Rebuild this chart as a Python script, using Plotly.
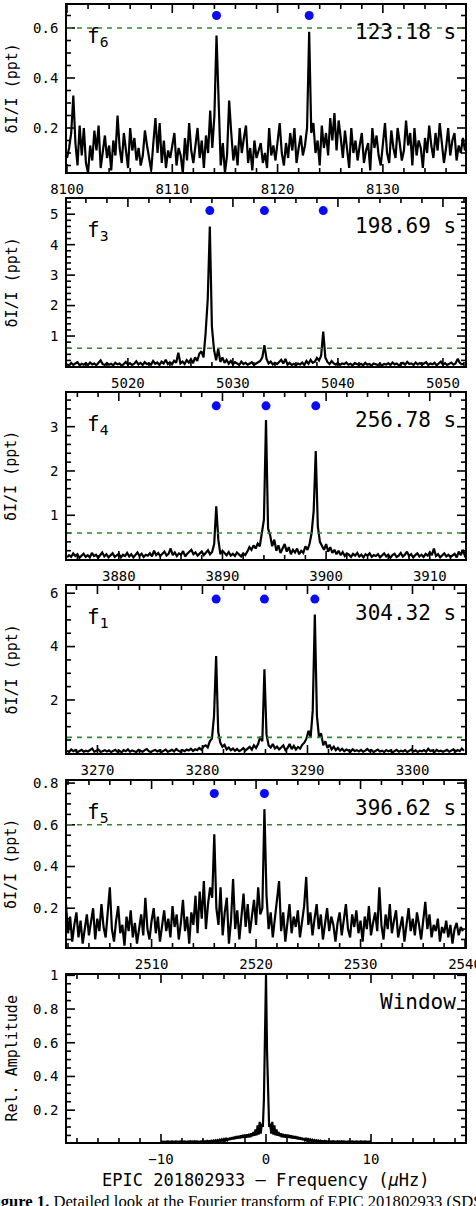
import numpy as np
import plotly.graph_objects as go

# ---------------- data ----------------
# Panel f6 (123.18 s)
f6_start, f6_step = 8100.0, 0.2
f6_amp = [
    0.08, 0.12, 0.18, 0.33, 0.14, 0.05, 0.21, 0.09, 0.20, 0.06,
    0.02, 0.13, 0.07, 0.19, 0.11, 0.21, 0.04, 0.10, 0.17, 0.08,
    0.13, 0.03, 0.15, 0.09, 0.25, 0.12, 0.06, 0.18, 0.10, 0.04,
    0.20, 0.11, 0.16, 0.07, 0.12, 0.05, 0.09, 0.19, 0.13, 0.08,
    0.03, 0.14, 0.24, 0.10, 0.22, 0.06, 0.15, 0.04, 0.11, 0.08,
    0.14, 0.18, 0.05, 0.12, 0.09, 0.02, 0.16, 0.07, 0.22, 0.11,
    0.06, 0.13, 0.20, 0.08, 0.15, 0.04, 0.17, 0.10, 0.27, 0.12,
    0.25, 0.57, 0.30, 0.05, 0.14, 0.02, 0.09, 0.31, 0.18, 0.07,
    0.13, 0.05, 0.20, 0.10, 0.16, 0.21, 0.06, 0.12, 0.03, 0.15,
    0.08, 0.11, 0.14, 0.06, 0.10, 0.04, 0.20, 0.09, 0.13, 0.07,
    0.16, 0.22, 0.10, 0.05, 0.14, 0.08, 0.18, 0.11, 0.20, 0.06,
    0.12, 0.17, 0.09, 0.13, 0.20, 0.585, 0.18, 0.22, 0.10, 0.15,
    0.05, 0.21, 0.12, 0.18, 0.09, 0.24, 0.15, 0.26, 0.11, 0.23,
    0.16, 0.08, 0.19, 0.12, 0.04, 0.20, 0.10, 0.15, 0.07, 0.13,
    0.18, 0.06, 0.11, 0.14, 0.03, 0.20, 0.12, 0.17, 0.09, 0.05,
    0.15, 0.22, 0.10, 0.06, 0.19, 0.12, 0.08, 0.20, 0.14, 0.07,
    0.11, 0.23, 0.13, 0.18, 0.05, 0.20, 0.09, 0.15, 0.12, 0.04,
    0.16, 0.10, 0.21, 0.13, 0.08, 0.18, 0.11, 0.22, 0.14, 0.06,
    0.12, 0.20, 0.09, 0.15, 0.18, 0.07, 0.13, 0.10, 0.16, 0.11,
]
f6_marks = [8114.2, 8123.0]
f6_mark_level = 0.65
f6_threshold = 0.6

# Panel f3 (198.69 s)
f3_start, f3_step = 5014.2, 0.2
f3_amp = [
    0.08, 0.03, 0.12, 0.05, 0.10, 0.14, 0.04, 0.09, 0.06, 0.11,
    0.05, 0.13, 0.07, 0.10, 0.04, 0.12, 0.20, 0.08, 0.05, 0.11,
    0.06, 0.09, 0.04, 0.12, 0.07, 0.10, 0.03, 0.08, 0.15, 0.06,
    0.11, 0.05, 0.09, 0.17, 0.07, 0.12, 0.05, 0.14, 0.08, 0.10,
    0.06, 0.18, 0.09, 0.13, 0.05, 0.16, 0.10, 0.22, 0.08, 0.14,
    0.07, 0.19, 0.12, 0.45, 0.10, 0.16, 0.08, 0.21, 0.13, 0.24,
    0.11, 0.30, 0.18, 0.42, 0.50, 0.30, 1.10, 2.20, 4.60, 1.30,
    0.55, 0.20, 0.58, 0.15, 0.30, 0.12, 0.22, 0.09, 0.18, 0.07,
    0.14, 0.10, 0.05, 0.16, 0.08, 0.12, 0.06, 0.10, 0.14, 0.05,
    0.09, 0.13, 0.18, 0.30, 0.70, 0.25, 0.10, 0.16, 0.07, 0.12,
    0.08, 0.15, 0.22, 0.10, 0.25, 0.06, 0.12, 0.05, 0.09, 0.04,
    0.10, 0.07, 0.13, 0.05, 0.18, 0.09, 0.22, 0.12, 0.16, 0.28,
    0.20, 0.35, 1.15, 0.30, 0.15, 0.08, 0.18, 0.10, 0.06, 0.12,
    0.05, 0.10, 0.08, 0.13, 0.06, 0.09, 0.04, 0.11, 0.07, 0.05,
    0.09, 0.04, 0.12, 0.06, 0.08, 0.03, 0.10, 0.07, 0.05, 0.09,
    0.04, 0.08, 0.06, 0.11, 0.05, 0.13, 0.07, 0.10, 0.04, 0.08,
    0.12, 0.06, 0.15, 0.08, 0.10, 0.05, 0.13, 0.07, 0.11, 0.06,
    0.09, 0.14, 0.05, 0.10, 0.07, 0.12, 0.04, 0.09, 0.16, 0.06,
    0.11, 0.05, 0.08, 0.13, 0.06, 0.10, 0.25, 0.12, 0.07, 0.09,
]
f3_marks = [5027.8, 5033.0, 5038.6]
f3_mark_level = 5.12
f3_threshold = 0.6

# Panel f4 (256.78 s)
f4_start, f4_step = 3875.0, 0.2
f4_amp = [
    0.05, 0.10, 0.06, 0.14, 0.08, 0.12, 0.04, 0.09, 0.13, 0.06,
    0.10, 0.05, 0.15, 0.08, 0.11, 0.04, 0.09, 0.16, 0.07, 0.12,
    0.05, 0.10, 0.14, 0.06, 0.09, 0.13, 0.05, 0.11, 0.08, 0.15,
    0.07, 0.12, 0.05, 0.10, 0.16, 0.08, 0.13, 0.06, 0.11, 0.09,
    0.14, 0.07, 0.20, 0.10, 0.15, 0.08, 0.12, 0.18, 0.09, 0.13,
    0.25, 0.10, 0.16, 0.08, 0.14, 0.11, 0.19, 0.07, 0.13, 0.17,
    0.22, 0.12, 0.16, 0.09, 0.14, 0.18, 0.10, 0.15, 0.21, 0.12,
    0.17, 0.35, 1.20, 0.45, 0.12, 0.20, 0.15, 0.10, 0.17, 0.09,
    0.13, 0.08, 0.16, 0.11, 0.07, 0.14, 0.10, 0.18, 0.28, 0.22,
    0.32, 0.25, 0.36, 0.30, 0.60, 0.90, 3.15, 0.70, 0.55, 0.30,
    0.45, 0.20, 0.32, 0.15, 0.25, 0.35, 0.18, 0.28, 0.12, 0.22,
    0.16, 0.25, 0.12, 0.20, 0.15, 0.30, 0.22, 0.35, 0.60, 1.10,
    2.45, 0.75, 0.40, 0.30, 0.22, 0.35, 0.18, 0.28, 0.15, 0.22,
    0.12, 0.20, 0.10, 0.17, 0.08, 0.14, 0.11, 0.06, 0.13, 0.09,
    0.15, 0.07, 0.11, 0.05, 0.12, 0.09, 0.14, 0.06, 0.10, 0.08,
    0.12, 0.05, 0.09, 0.14, 0.07, 0.11, 0.04, 0.10, 0.13, 0.06,
    0.09, 0.15, 0.07, 0.11, 0.18, 0.08, 0.12, 0.05, 0.10, 0.14,
    0.07, 0.11, 0.06, 0.13, 0.09, 0.16, 0.10, 0.25, 0.08, 0.12,
    0.05, 0.10, 0.14, 0.07, 0.11, 0.06, 0.09, 0.13, 0.05, 0.18,
    0.10, 0.22, 0.08, 0.12, 0.06, 0.10, 0.09, 0.07, 0.11, 0.05,
]
f4_marks = [3889.4, 3894.2, 3899.0]
f4_mark_level = 3.47
f4_threshold = 0.6

# Panel f1 (304.32 s)
f1_start, f1_step = 3267.1, 0.2
f1_amp = [
    0.10, 0.05, 0.14, 0.08, 0.12, 0.04, 0.09, 0.13, 0.06, 0.10,
    0.07, 0.12, 0.18, 0.06, 0.10, 0.14, 0.05, 0.09, 0.12, 0.07,
    0.11, 0.05, 0.08, 0.13, 0.06, 0.10, 0.04, 0.12, 0.08, 0.15,
    0.06, 0.11, 0.08, 0.05, 0.13, 0.09, 0.06, 0.12, 0.16, 0.08,
    0.05, 0.10, 0.13, 0.07, 0.11, 0.05, 0.09, 0.14, 0.06, 0.10,
    0.13, 0.07, 0.16, 0.10, 0.06, 0.12, 0.08, 0.14, 0.11, 0.17,
    0.09, 0.15, 0.12, 0.20, 0.14, 0.25, 0.30, 0.22, 0.45, 0.55,
    1.40, 3.65, 0.80, 0.40, 0.25, 0.32, 0.15, 0.22, 0.12, 0.18,
    0.10, 0.16, 0.08, 0.13, 0.20, 0.11, 0.17, 0.24, 0.14, 0.30,
    0.20, 0.35, 0.62, 0.45, 3.15, 0.70, 0.30, 0.22, 0.35, 0.18,
    0.25, 0.15, 0.22, 0.30, 0.12, 0.20, 0.35, 0.16, 0.28, 0.14,
    0.24, 0.18, 0.32, 0.40, 0.55, 0.85, 0.60, 1.60, 5.20, 1.40,
    0.60, 0.75, 0.30, 0.45, 0.20, 0.32, 0.15, 0.25, 0.12, 0.20,
    0.10, 0.17, 0.08, 0.14, 0.11, 0.06, 0.15, 0.09, 0.12, 0.07,
    0.13, 0.06, 0.10, 0.16, 0.08, 0.12, 0.05, 0.09, 0.14, 0.07,
    0.10, 0.05, 0.12, 0.08, 0.11, 0.04, 0.09, 0.13, 0.06, 0.10,
    0.07, 0.12, 0.05, 0.09, 0.14, 0.07, 0.11, 0.05, 0.10, 0.08,
    0.12, 0.06, 0.17, 0.09, 0.11, 0.05, 0.13, 0.08, 0.10, 0.06,
    0.09, 0.13, 0.06, 0.10, 0.15, 0.07, 0.12, 0.08, 0.18, 0.10,
]
f1_marks = [3281.3, 3285.9, 3290.7]
f1_mark_level = 5.78
f1_threshold = 0.6

# Panel f5 (396.62 s)
f5_start, f5_step = 2501.8, 0.2
f5_amp = [
    0.22, 0.08, 0.16, 0.04, 0.12, 0.18, 0.06, 0.14, 0.03, 0.10,
    0.17, 0.07, 0.13, 0.20, 0.05, 0.15, 0.09, 0.22, 0.11, 0.06,
    0.18, 0.30, 0.10, 0.04, 0.14, 0.21, 0.08, 0.12, 0.02, 0.16,
    0.09, 0.19, 0.06, 0.13, 0.03, 0.11, 0.17, 0.07, 0.25, 0.10,
    0.05, 0.14, 0.20, 0.08, 0.16, 0.04, 0.12, 0.19, 0.09, 0.15,
    0.06, 0.21, 0.11, 0.17, 0.05, 0.13, 0.24, 0.09, 0.16, 0.03,
    0.18, 0.12, 0.26, 0.08, 0.28, 0.15, 0.33, 0.10, 0.22, 0.30,
    0.25, 0.555, 0.20, 0.12, 0.30, 0.07, 0.18, 0.25, 0.03, 0.14,
    0.34, 0.10, 0.19, 0.05, 0.16, 0.27, 0.11, 0.22, 0.08, 0.15,
    0.24, 0.12, 0.30, 0.17, 0.20, 0.675, 0.26, 0.10, 0.18, 0.06,
    0.15, 0.21, 0.33, 0.09, 0.18, 0.04, 0.13, 0.22, 0.08, 0.16,
    0.11, 0.19, 0.06, 0.14, 0.21, 0.35, 0.12, 0.18, 0.07, 0.15,
    0.22, 0.10, 0.17, 0.05, 0.14, 0.20, 0.09, 0.16, 0.12, 0.04,
    0.13, 0.18, 0.07, 0.15, 0.22, 0.10, 0.06, 0.17, 0.11, 0.19,
    0.08, 0.14, 0.04, 0.16, 0.10, 0.21, 0.07, 0.13, 0.18, 0.09,
    0.30, 0.12, 0.05, 0.17, 0.10, 0.22, 0.08, 0.14, 0.19, 0.06,
    0.11, 0.16, 0.04, 0.13, 0.20, 0.09, 0.15, 0.07, 0.18, 0.12,
    0.05, 0.14, 0.23, 0.10, 0.17, 0.06, 0.12, 0.09, 0.15, 0.04,
    0.11, 0.08, 0.14, 0.06, 0.12, 0.03, 0.10, 0.13, 0.07, 0.11,
    0.09,
]
f5_marks = [2516.0, 2520.8]
f5_mark_level = 0.75
f5_threshold = 0.6

# Spectral window
win_start, win_step = -10.0, 0.1
win_amp = [
    0.013, 0.012, 0.014, 0.012, 0.013, 0.012, 0.014, 0.012, 0.013, 0.012,
    0.014, 0.012, 0.013, 0.012, 0.014, 0.012, 0.013, 0.012, 0.014, 0.012,
    0.013, 0.012, 0.014, 0.012, 0.013, 0.012, 0.014, 0.012, 0.015, 0.012,
    0.014, 0.012, 0.015, 0.012, 0.014, 0.013, 0.016, 0.012, 0.015, 0.013,
    0.017, 0.013, 0.016, 0.013, 0.018, 0.014, 0.017, 0.013, 0.019, 0.014,
    0.020, 0.015, 0.021, 0.015, 0.022, 0.016, 0.024, 0.017, 0.026, 0.018,
    0.028, 0.019, 0.030, 0.021, 0.033, 0.023, 0.036, 0.025, 0.039, 0.027,
    0.042, 0.029, 0.045, 0.031, 0.048, 0.033, 0.050, 0.035, 0.053, 0.036,
    0.055, 0.037, 0.057, 0.038, 0.060, 0.040, 0.062, 0.045, 0.070, 0.048,
    0.085, 0.050, 0.110, 0.055, 0.130, 0.060, 0.120, 0.100, 0.260, 0.550,
    1.000,
    0.550, 0.260, 0.100, 0.120, 0.060, 0.130, 0.055, 0.110, 0.050, 0.085,
    0.048, 0.070, 0.045, 0.062, 0.040, 0.060, 0.038, 0.057, 0.037, 0.055,
    0.036, 0.053, 0.035, 0.050, 0.033, 0.048, 0.031, 0.045, 0.029, 0.042,
    0.027, 0.039, 0.025, 0.036, 0.023, 0.033, 0.021, 0.030, 0.019, 0.028,
    0.018, 0.026, 0.017, 0.024, 0.016, 0.022, 0.015, 0.021, 0.015, 0.020,
    0.014, 0.019, 0.013, 0.017, 0.014, 0.018, 0.013, 0.016, 0.013, 0.017,
    0.013, 0.015, 0.012, 0.016, 0.013, 0.014, 0.012, 0.015, 0.012, 0.014,
    0.012, 0.015, 0.012, 0.014, 0.012, 0.013, 0.012, 0.014, 0.012, 0.013,
    0.012, 0.014, 0.012, 0.013, 0.012, 0.014, 0.012, 0.013, 0.012, 0.014,
    0.012, 0.013, 0.012, 0.014, 0.012, 0.013, 0.012, 0.014, 0.012, 0.013,
]

period_labels = ["123.18 s", "198.69 s", "256.78 s", "304.32 s", "396.62 s", "Window"]
mode_labels = ["f<sub>6</sub>", "f<sub>3</sub>", "f<sub>4</sub>", "f<sub>1</sub>", "f<sub>5</sub>", ""]
y_titles = ["δI/I (ppt)"] * 5 + ["Rel. Amplitude"]
x_title = "EPIC 201802933 \u2013 Frequency (<i>\u03bc</i>Hz)"
caption = ("<b>Figure 1.</b> Detailed look at the Fourier transform of "
           "EPIC 201802933 (SDSS J1144+0016)")

# ---------------- layout geometry ----------------
W, H = 476, 1206
X_LEFT, X_RIGHT = 67, 465
TOPS = [5, 199, 393, 586, 781, 975]
BOTS = [172, 366, 559, 753, 947, 1142]
MAJOR_LEN, MINOR_LEN = 8, 4

panels = [
    dict(start=f6_start, step=f6_step, amp=f6_amp, marks=f6_marks, lvl=f6_mark_level,
         thr=f6_threshold, xr=[8100.0, 8137.8], yr=[0.024, 0.692], ydt=0.2, ymin=0.05),
    dict(start=f3_start, step=f3_step, amp=f3_amp, marks=f3_marks, lvl=f3_mark_level,
         thr=f3_threshold, xr=[5014.2, 5052.1], yr=[0.016, 5.5], ydt=1, ymin=0.2),
    dict(start=f4_start, step=f4_step, amp=f4_amp, marks=f4_marks, lvl=f4_mark_level,
         thr=f4_threshold, xr=[3875.0, 3913.4], yr=[0.013, 3.76], ydt=1, ymin=0.2),
    dict(start=f1_start, step=f1_step, amp=f1_amp, marks=f1_marks, lvl=f1_mark_level,
         thr=f1_threshold, xr=[3267.1, 3305.0], yr=[0.013, 6.27], ydt=2, ymin=0.5),
    dict(start=f5_start, step=f5_step, amp=f5_amp, marks=f5_marks, lvl=f5_mark_level,
         thr=f5_threshold, xr=[2501.9, 2540.0], yr=[0.014, 0.81], ydt=0.2, ymin=0.05),
    dict(start=win_start, step=win_step, amp=win_amp, marks=[], lvl=None,
         thr=None, xr=[-18.95, 18.95], yr=[0.011, 1.002], ydt=0.2, ymin=0.05),
]


def tick_values(lo, hi, step):
    k0 = int(np.ceil(lo / step - 1e-9))
    k1 = int(np.floor(hi / step + 1e-9))
    return [round(k * step, 6) for k in range(k0, k1 + 1)]


def is_multiple(v, step):
    r = v / step
    return abs(r - round(r)) < 1e-6


MONO = "DejaVu Sans Mono"
fig = go.Figure()
layout = dict(template="none", width=W, height=H, margin=dict(l=0, r=0, t=0, b=0, pad=0),
              paper_bgcolor="white", plot_bgcolor="white", showlegend=False)
annotations = []
shapes = []
pw = X_RIGHT - X_LEFT

for i, p in enumerate(panels):
    n = i + 1
    sfx = "" if n == 1 else str(n)
    xs = p["start"] + p["step"] * np.arange(len(p["amp"]))
    fig.add_trace(go.Scatter(x=xs, y=p["amp"], mode="lines", xaxis=f"x{sfx}", yaxis=f"y{sfx}",
                             line=dict(color="black", width=2.2), hoverinfo="skip"))
    if p["marks"]:
        fig.add_trace(go.Scatter(x=p["marks"], y=[p["lvl"]] * len(p["marks"]), mode="markers",
                                 xaxis=f"x{sfx}", yaxis=f"y{sfx}",
                                 marker=dict(color="#0a0af5", size=9, line=dict(width=0)),
                                 hoverinfo="skip"))
    ph = BOTS[i] - TOPS[i]
    ydom = [1 - BOTS[i] / H, 1 - TOPS[i] / H]
    axcommon = dict(showline=True, linecolor="black", linewidth=1.6, mirror=True,
                    ticks="", showgrid=False, zeroline=False, automargin=False,
                    tickfont=dict(family=MONO, size=14, color="black"))
    layout[f"xaxis{sfx}"] = dict(axcommon, domain=[X_LEFT / W, X_RIGHT / W], anchor=f"y{sfx}",
                                 range=p["xr"], dtick=10, tick0=0, ticklabeloverflow="allow",
                                 ticklabelstandoff=3)
    layout[f"yaxis{sfx}"] = dict(axcommon, domain=ydom, anchor=f"x{sfx}",
                                 range=p["yr"], dtick=p["ydt"], tick0=0, ticklabelstandoff=4)

    # tick marks (inside, on all four sides), positioned from the axis ranges
    tick_line = dict(color="black", width=1.6)
    for v in tick_values(p["xr"][0], p["xr"][1], 2):
        L = MAJOR_LEN if is_multiple(v, 10) else MINOR_LEN
        for y0, y1 in ((0, L / ph), (1, 1 - L / ph)):
            shapes.append(dict(type="line", xref=f"x{sfx}", yref=f"y{sfx} domain",
                               x0=v, x1=v, y0=y0, y1=y1, line=tick_line, layer="above"))
    for v in tick_values(p["yr"][0], p["yr"][1], p["ymin"]):
        L = MAJOR_LEN if is_multiple(v, p["ydt"]) else MINOR_LEN
        for x0, x1 in ((0, L / pw), (1, 1 - L / pw)):
            shapes.append(dict(type="line", xref=f"x{sfx} domain", yref=f"y{sfx}",
                               x0=x0, x1=x1, y0=v, y1=v, line=tick_line, layer="above"))

    if p["thr"] is not None:
        shapes.append(dict(type="line", xref=f"x{sfx} domain", x0=0, x1=1,
                           yref=f"y{sfx}", y0=p["thr"], y1=p["thr"],
                           line=dict(color="#2a8a2a", width=1.6, dash="5px,5px")))
    annotations.append(dict(text=period_labels[i], xref=f"x{sfx} domain", x=0.982, xanchor="right",
                            yref=f"y{sfx} domain", y=1 - 27 / ph, yanchor="middle", showarrow=False,
                            font=dict(family=MONO, size=21, color="black")))
    if mode_labels[i]:
        annotations.append(dict(text=mode_labels[i], xref=f"x{sfx} domain", x=0.045, xanchor="left",
                                yref=f"y{sfx} domain", y=1 - 32 / ph, yanchor="middle",
                                showarrow=False, font=dict(family=MONO, size=21, color="black")))
    annotations.append(dict(text=y_titles[i], xref="paper", x=11 / W, xanchor="center",
                            yref=f"y{sfx} domain", y=0.5, yanchor="middle", textangle=-90,
                            showarrow=False, font=dict(family=MONO, size=15, color="black")))

annotations.append(dict(text=x_title, xref="x6 domain", x=0.5, xanchor="center",
                        yref="paper", y=1 - 1180 / H, yanchor="middle", showarrow=False,
                        font=dict(family=MONO, size=17, color="black")))
annotations.append(dict(text=caption, xref="paper", x=-16 / W, xanchor="left",
                        yref="paper", y=1 - 1190 / H, yanchor="top", showarrow=False,
                        font=dict(family="Liberation Serif", size=16.6, color="black")))

layout["annotations"] = annotations
layout["shapes"] = shapes
fig.update_layout(**layout)
fig.write_html("out.html")
